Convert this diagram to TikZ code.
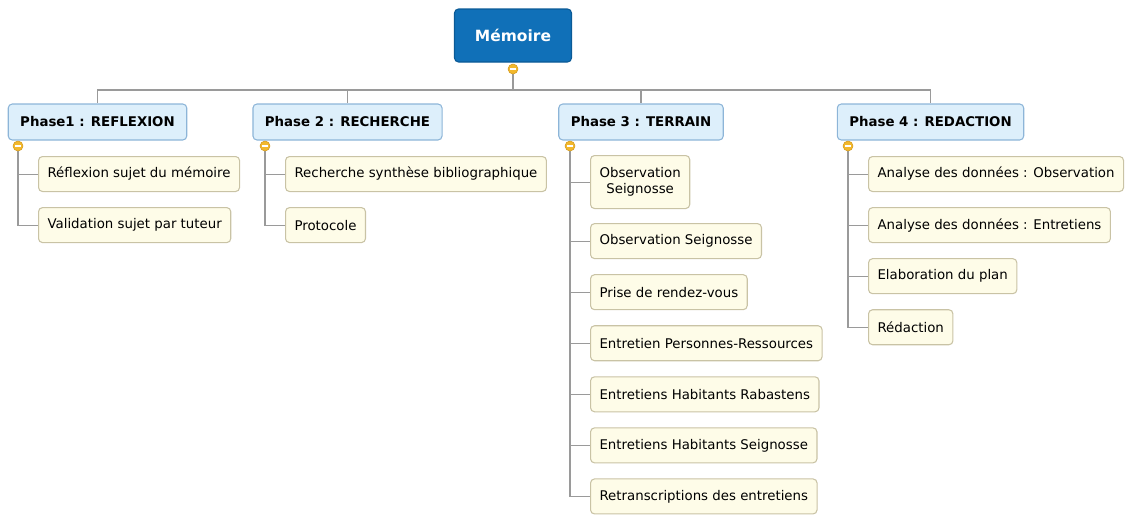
\documentclass[tikz,border=0pt]{standalone}
\usepackage{fontspec}
\setmainfont{DejaVu Sans}
\usetikzlibrary{positioning, backgrounds}

\definecolor{rootblue}{HTML}{1070B8}
\definecolor{rootedge}{HTML}{0B5A96}
\definecolor{phasefill}{HTML}{DDEFFB}
\definecolor{phaseedge}{HTML}{8DB5D8}
\definecolor{taskfill}{HTML}{FEFCE8}
\definecolor{taskedge}{HTML}{C9C3A5}
\definecolor{linkgrey}{HTML}{9A9A9A}
\definecolor{togglefill}{HTML}{F2B82C}
\definecolor{toggleedge}{HTML}{D49A1C}

\begin{document}
\begin{tikzpicture}[
    x=0.75pt, y=-0.75pt,
    every node/.style={font=\fontsize{10}{12}\selectfont},
    rootbox/.style={rectangle, rounded corners=3pt, draw=rootedge, fill=rootblue, text=white,
        font=\fontsize{11.6}{14}\selectfont\bfseries, minimum width=87.75pt, minimum height=39.75pt, line width=0.8pt},
    phasebox/.style={rectangle, rounded corners=3pt, draw=phaseedge, fill=phasefill,
        font=\fontsize{10}{12}\selectfont\bfseries, inner xsep=9pt, minimum height=27pt, line width=0.8pt},
    taskbox/.style={rectangle, rounded corners=3pt, draw=taskedge, fill=taskfill, align=center,
        inner xsep=6.75pt, minimum height=26.25pt, line width=0.8pt},
    toggle/.style={circle, draw=toggleedge, fill=togglefill, minimum size=7.5pt, inner sep=0pt,
        path picture={\draw[white, line width=1pt] ([xshift=-2.2pt]path picture bounding box.center) -- ([xshift=2.2pt]path picture bounding box.center);}},
    link/.style={draw=linkgrey, line width=0.8pt}
]
\useasboundingbox (0,0) rectangle (1126,514);

% Root
\node[rootbox] (root) at (513,35.5) {Mémoire};
\node[toggle] (troot) at (513,69) {};
\coordinate (bus) at (513,90);

% Phases
\node[phasebox] (ph1) at (97.5,122) {Phase1 : REFLEXION};
\node[phasebox] (ph2) at (347.5,122) {Phase 2 : RECHERCHE};
\node[phasebox] (ph3) at (641,122) {Phase 3 : TERRAIN};
\node[phasebox] (ph4) at (930.5,122) {Phase 4 : REDACTION};

\node[toggle] (t1) at (18,146) {};
\node[toggle] (t2) at (265,146) {};
\node[toggle] (t3) at (570,146) {};
\node[toggle] (t4) at (848,146) {};

% Phase 1 tasks
\node[taskbox, below right=7.5pt and 15pt of t1.center] (a1) {Réflexion sujet du mémoire};
\node[taskbox, below right=11.25pt and 0pt of a1.south west] (a2) {Validation sujet par tuteur};

% Phase 2 tasks
\node[taskbox, below right=7.5pt and 15pt of t2.center] (b1) {Recherche synthèse bibliographique};
\node[taskbox, below right=11.25pt and 0pt of b1.south west] (b2) {Protocole};

% Phase 3 tasks
\node[taskbox, minimum height=39.75pt, below right=6.75pt and 15pt of t3.center] (c1) {Observation\\Seignosse};
\node[taskbox, below right=10.5pt and 0pt of c1.south west] (c2) {Observation Seignosse};
\node[taskbox, below right=11.25pt and 0pt of c2.south west] (c3) {Prise de rendez-vous};
\node[taskbox, below right=11.25pt and 0pt of c3.south west] (c4) {Entretien Personnes-Ressources};
\node[taskbox, below right=11.25pt and 0pt of c4.south west] (c5) {Entretiens Habitants Rabastens};
\node[taskbox, below right=11.25pt and 0pt of c5.south west] (c6) {Entretiens Habitants Seignosse};
\node[taskbox, below right=11.25pt and 0pt of c6.south west] (c7) {Retranscriptions des entretiens};

% Phase 4 tasks
\node[taskbox, below right=7.5pt and 15pt of t4.center] (d1) {Analyse des données : Observation};
\node[taskbox, below right=11.25pt and 0pt of d1.south west] (d2) {Analyse des données : Entretiens};
\node[taskbox, below right=11.25pt and 0pt of d2.south west] (d3) {Elaboration du plan};
\node[taskbox, below right=11.25pt and 0pt of d3.south west] (d4) {Rédaction};

% Links
\begin{scope}[on background layer]
\draw[link] (troot) -- (bus);
\foreach \p in {ph1, ph2, ph3, ph4}
    \draw[link] (bus) -| (\p.north);
\foreach \c in {a1, a2}
    \draw[link] (t1) |- (\c.west);
\foreach \c in {b1, b2}
    \draw[link] (t2) |- (\c.west);
\foreach \c in {c1, c2, c3, c4, c5, c6, c7}
    \draw[link] (t3) |- (\c.west);
\foreach \c in {d1, d2, d3, d4}
    \draw[link] (t4) |- (\c.west);
\end{scope}

\end{tikzpicture}
\end{document}
